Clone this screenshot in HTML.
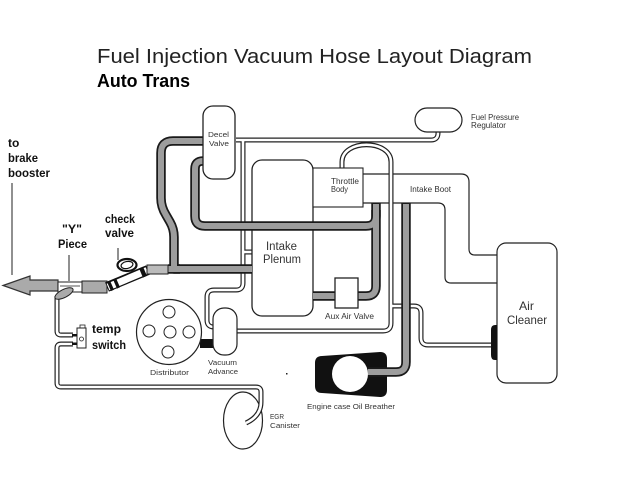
<!DOCTYPE html>
<html><head><meta charset="utf-8"><style>
html,body{margin:0;padding:0;background:#fff;}
svg{display:block;}
text{font-family:"Liberation Sans",sans-serif;}
</style></head><body>
<svg width="640" height="480" viewBox="0 0 640 480" xmlns="http://www.w3.org/2000/svg">
<rect width="640" height="480" fill="#fff"/>

<!-- intake boot lines -->
<g fill="none" stroke="#222" stroke-width="1.2">
<path d="M363,174 H461 Q469,174 469,182 V249 Q469,255 475,255 H497"/>
<path d="M363,203 H438 Q445,203 445,210 V277 Q445,283 451,283 H497"/>
</g>

<!-- EGR canister -->
<ellipse cx="243" cy="420.5" rx="19.5" ry="28.5" fill="#fff" stroke="#222" stroke-width="1.2"/>

<!-- thin double hoses -->
<g fill="none" stroke-linejoin="round" stroke="#222" stroke-width="5">
<path d="M236,140 H431 Q438,140 438,133 V130"/>
<path d="M243,140 V283 Q243,290 236,290 H214 Q207,290 207,297 V320 Q207,327 214,327"/>
<path d="M243,252 H253"/>
<path d="M342,169 V162 C342,139 391,139 391,162 V323 Q391,331 383,331 H236"/>
<path d="M391,306 H414 Q421,306 421,313 V338 Q421,345 428,345 H492"/>
<path d="M57,296 V331 Q57,335 61,335 H73"/>
<path d="M73,344 H61 Q57,344 57,348 V383 Q57,387 61,387 H256 Q261,387 261,392 V402 Q261,416 246,423"/>
</g>
<g fill="none" stroke-linejoin="round" stroke="#fff" stroke-width="2.6">
<path d="M236,140 H431 Q438,140 438,133 V130"/>
<path d="M243,140 V283 Q243,290 236,290 H214 Q207,290 207,297 V320 Q207,327 214,327"/>
<path d="M243,252 H253"/>
<path d="M342,169 V162 C342,139 391,139 391,162 V323 Q391,331 383,331 H236"/>
<path d="M391,306 H414 Q421,306 421,313 V338 Q421,345 428,345 H492"/>
<path d="M57,296 V331 Q57,335 61,335 H73"/>
<path d="M73,344 H61 Q57,344 57,348 V383 Q57,387 61,387 H256 Q261,387 261,392 V402 Q261,416 246,423"/>
</g>

<!-- intake plenum -->
<rect x="252" y="160" width="61" height="156" rx="10" fill="#fff" stroke="#222" stroke-width="1.3"/>

<!-- oil breather -->
<path d="M322,356 L380,352 Q387,352 387,359 L387,390 Q387,397 380,397 L322,393 Q315,393 315,386 L315,363 Q315,356 322,356 Z" fill="#111"/>
<circle cx="350" cy="374" r="18" fill="#fff"/>

<!-- thick grey hoses -->
<g fill="none" stroke-linejoin="round" stroke="#1a1a1a" stroke-width="9.5">
<path d="M203,141 H173 Q161,141 161,153 V198 Q161,207 166,215 L170,222 Q174,229 174,237 V269 H252"/>
<path d="M168,269 H180"/>
<path d="M203,161 Q195,161 195,169 V216 Q195,226 205,226 H366 Q376,226 376,216 V203"/>
<path d="M376,210 V286 Q376,296 366,296 H358"/>
<path d="M335,296 H313"/>
<path d="M406,203 V362 Q406,372 396,372 H368"/>
</g>
<g fill="none" stroke-linejoin="round" stroke="#9d9d9d" stroke-width="6">
<path d="M203,141 H173 Q161,141 161,153 V198 Q161,207 166,215 L170,222 Q174,229 174,237 V269 H252"/>
<path d="M168,269 H180"/>
<path d="M203,161 Q195,161 195,169 V216 Q195,226 205,226 H366 Q376,226 376,216 V204"/>
<path d="M376,210 V286 Q376,296 366,296 H358"/>
<path d="M335,296 H313"/>
<path d="M406,204 V362 Q406,372 396,372 H368"/>
</g>

<!-- boxes -->
<rect x="203" y="106" width="32" height="73" rx="10" fill="#fff" stroke="#222" stroke-width="1.3"/>
<rect x="415" y="108" width="47" height="24" rx="12" fill="#fff" stroke="#222" stroke-width="1.2"/>
<rect x="313" y="168" width="50" height="39" fill="#fff" stroke="#222" stroke-width="1.1"/>
<rect x="335" y="278" width="23" height="30" fill="#fff" stroke="#222" stroke-width="1.3"/>
<rect x="497" y="243" width="60" height="140" rx="9" fill="#fff" stroke="#222" stroke-width="1.2"/>
<path d="M497,325 H495 Q491,325 491,330 V355 Q491,360 495,360 H497 Z" fill="#111"/>

<!-- distributor -->
<rect x="200" y="339" width="14" height="9" fill="#111"/>
<circle cx="169" cy="332" r="32.5" fill="#fff" stroke="#222" stroke-width="1.2"/>
<g fill="#fff" stroke="#222" stroke-width="1">
<circle cx="169" cy="312" r="6"/>
<circle cx="149" cy="331" r="6"/>
<circle cx="170" cy="332" r="6"/>
<circle cx="189" cy="332" r="6"/>
<circle cx="168" cy="352" r="6"/>
</g>
<rect x="213" y="308" width="24" height="47" rx="11" fill="#fff" stroke="#222" stroke-width="1.2"/>

<!-- left assembly -->
<polygon points="3,285.5 30,276 30,280 58,280 58,291 30,291 30,295" fill="#aaa" stroke="#333" stroke-width="1.2"/>
<rect x="58" y="282" width="24" height="10" fill="#fff" stroke="#222" stroke-width="1"/>
<line x1="60" y1="286" x2="80" y2="286" stroke="#555" stroke-width="1"/>
<ellipse cx="64" cy="293.5" rx="10" ry="4" transform="rotate(-27 64 293.5)" fill="#aaa" stroke="#222" stroke-width="1"/>
<rect x="82" y="281" width="25" height="12" fill="#aaa" stroke="#222" stroke-width="1"/>
<line x1="107" y1="287" x2="148" y2="270" stroke="#111" stroke-width="10"/>
<line x1="108" y1="287" x2="147" y2="270.5" stroke="#fff" stroke-width="7"/>
<line x1="109" y1="286.5" x2="112" y2="285.2" stroke="#111" stroke-width="10"/>
<line x1="115" y1="284" x2="118" y2="282.7" stroke="#111" stroke-width="10"/>
<line x1="141" y1="273" x2="145" y2="271.3" stroke="#111" stroke-width="10"/>
<ellipse cx="127" cy="265" rx="9.5" ry="6" fill="#fff" stroke="#111" stroke-width="2.2"/>
<ellipse cx="127" cy="265" rx="6" ry="3.5" transform="rotate(-12 127 265)" fill="none" stroke="#111" stroke-width="1.2"/>
<rect x="147" y="265" width="21" height="9" fill="#bbb" stroke="#222" stroke-width="1"/>

<!-- temp switch -->
<rect x="80" y="325" width="5" height="3" fill="#fff" stroke="#222" stroke-width="0.8"/>
<rect x="77" y="328" width="9" height="20" fill="#fff" stroke="#222" stroke-width="1"/>
<circle cx="81.5" cy="339" r="2" fill="none" stroke="#222" stroke-width="0.8"/>
<rect x="72" y="334" width="5" height="2.5" fill="#111"/>
<rect x="72" y="342.5" width="5" height="2.5" fill="#111"/>

<!-- pointer lines -->
<g stroke="#222" stroke-width="1">
<line x1="12" y1="183" x2="12" y2="275"/>
<line x1="69" y1="255" x2="69" y2="281"/>
<line x1="118" y1="248" x2="118" y2="260"/>
</g>
<rect x="286" y="373" width="1.5" height="1.5" fill="#222"/>

<!-- titles -->
<text x="97" y="63" font-size="20" fill="#222" textLength="435" lengthAdjust="spacingAndGlyphs">Fuel Injection Vacuum Hose Layout Diagram</text>
<text x="97" y="87" font-size="18" font-weight="bold" fill="#000" textLength="93" lengthAdjust="spacingAndGlyphs">Auto Trans</text>

<!-- bold labels -->
<g font-size="12" font-weight="bold" fill="#111">
<text x="8" y="147">to</text>
<text x="8" y="162" textLength="30" lengthAdjust="spacingAndGlyphs">brake</text>
<text x="8" y="177" textLength="42" lengthAdjust="spacingAndGlyphs">booster</text>
<text x="62" y="233" textLength="20" lengthAdjust="spacingAndGlyphs">"Y"</text>
<text x="58" y="248" textLength="29" lengthAdjust="spacingAndGlyphs">Piece</text>
<text x="105" y="223" textLength="30" lengthAdjust="spacingAndGlyphs">check</text>
<text x="105" y="237" textLength="29" lengthAdjust="spacingAndGlyphs">valve</text>
<text x="92" y="333" textLength="29" lengthAdjust="spacingAndGlyphs">temp</text>
<text x="92" y="349" textLength="34" lengthAdjust="spacingAndGlyphs">switch</text>
</g>

<!-- small labels -->
<g font-size="7.5" fill="#333">
<text x="208" y="137" textLength="21" lengthAdjust="spacingAndGlyphs">Decel</text>
<text x="209" y="146" textLength="20" lengthAdjust="spacingAndGlyphs">Valve</text>
<text x="471" y="120" font-size="8.3" textLength="48" lengthAdjust="spacingAndGlyphs">Fuel Pressure</text>
<text x="471" y="128" font-size="8.3" textLength="35" lengthAdjust="spacingAndGlyphs">Regulator</text>
<text x="331" y="184" font-size="8.3" textLength="28" lengthAdjust="spacingAndGlyphs">Throttle</text>
<text x="331" y="192" font-size="8.3" textLength="17" lengthAdjust="spacingAndGlyphs">Body</text>
<text x="410" y="192" font-size="8.3" textLength="41" lengthAdjust="spacingAndGlyphs">Intake Boot</text>
<text x="325" y="319" font-size="8.3" textLength="49" lengthAdjust="spacingAndGlyphs">Aux Air Valve</text>
<text x="150" y="375" textLength="39" lengthAdjust="spacingAndGlyphs">Distributor</text>
<text x="208" y="365" textLength="29" lengthAdjust="spacingAndGlyphs">Vacuum</text>
<text x="208" y="374" textLength="30" lengthAdjust="spacingAndGlyphs">Advance</text>
<text x="307" y="409" textLength="88" lengthAdjust="spacingAndGlyphs">Engine case Oil Breather</text>
<text x="270" y="419" textLength="14" lengthAdjust="spacingAndGlyphs">EGR</text>
<text x="270" y="428" textLength="30" lengthAdjust="spacingAndGlyphs">Canister</text>
</g>
<g fill="#333">
<text x="266" y="250" font-size="11.5" textLength="31" lengthAdjust="spacingAndGlyphs">Intake</text>
<text x="263" y="263" font-size="11.5" textLength="38" lengthAdjust="spacingAndGlyphs">Plenum</text>
<text x="519" y="310" font-size="12" textLength="15" lengthAdjust="spacingAndGlyphs">Air</text>
<text x="507" y="324" font-size="12" textLength="40" lengthAdjust="spacingAndGlyphs">Cleaner</text>
</g>
</svg>
</body></html>
